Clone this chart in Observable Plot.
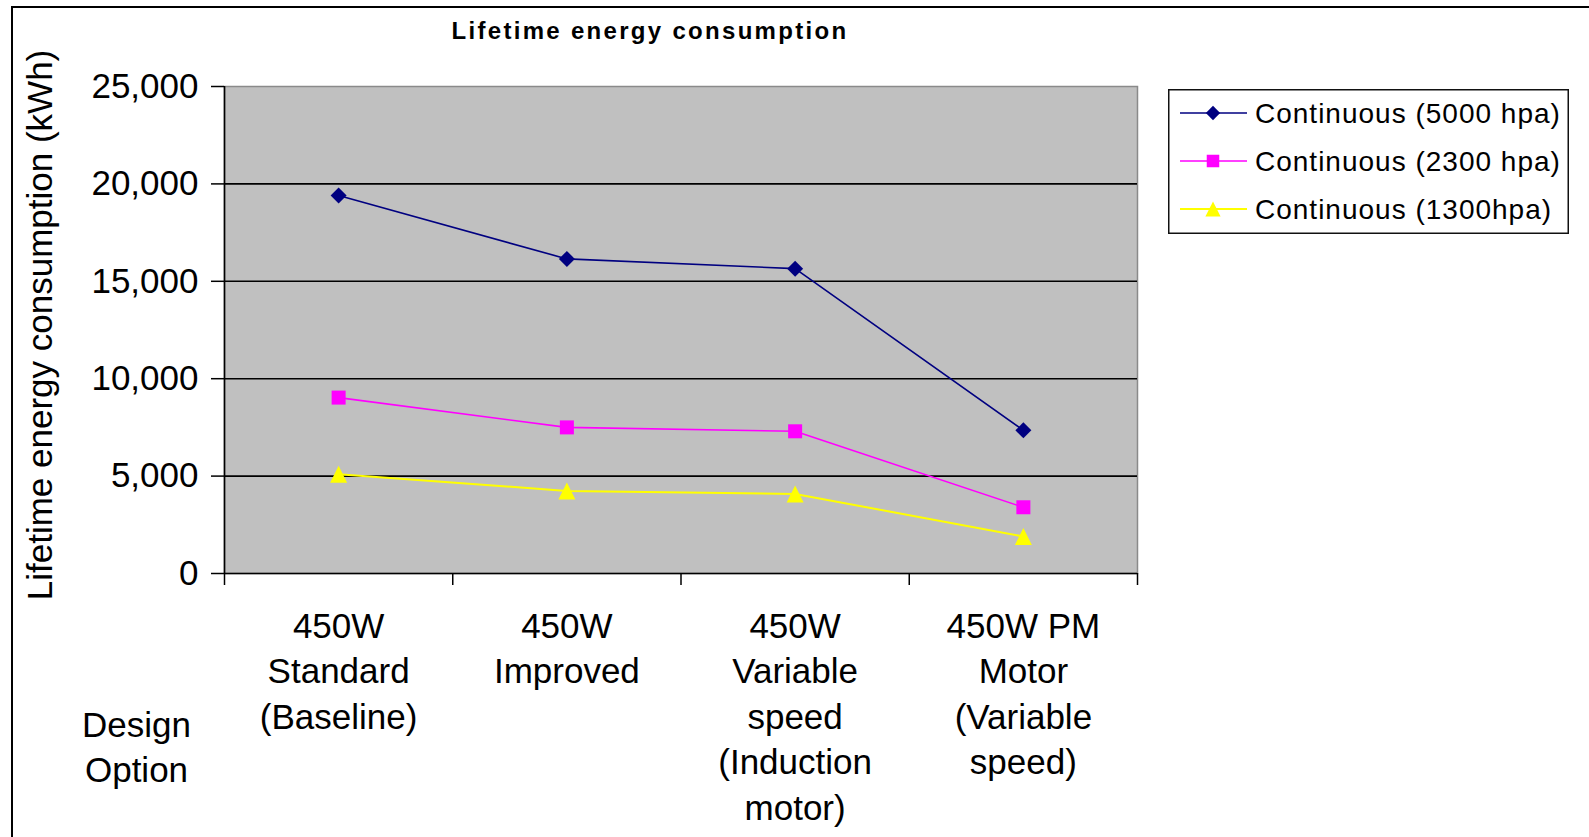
<!DOCTYPE html>
<html>
<head>
<meta charset="utf-8">
<script src="https://cdn.jsdelivr.net/npm/d3@7"></script>
<script src="https://cdn.jsdelivr.net/npm/@observablehq/plot@0.6"></script>
<style>
html, body { margin: 0; padding: 0; background: #fff; }
#wrap { position: relative; width: 1589px; height: 837px; overflow: hidden; font-family: "Liberation Sans", Arial, sans-serif; background: #fff; }
#border { position: absolute; left: 11px; top: 6px; right: -20px; bottom: -20px; border-left: 2px solid #000; border-top: 2px solid #000; pointer-events: none; }
#chart { position: absolute; left: 0; top: 0; }
#title { position: absolute; left: 0; width: 1300px; top: 19px; line-height: 24px; text-align: center; font-weight: bold; font-size: 24px; letter-spacing: 2.3px; color: #000; }
#legend { position: absolute; left: 1168px; top: 89px; }
</style>
</head>
<body>
<div id="wrap">
  <div id="chart"></div>
  <div id="title">Lifetime energy consumption</div>
  <div id="legend"></div>
  <div id="border"></div>
</div>
<script>
// ---- data ----
const categories = [
  "450W\nStandard\n(Baseline)",
  "450W\nImproved",
  "450W\nVariable\nspeed\n(Induction\nmotor)",
  "450W PM\nMotor\n(Variable\nspeed)"
];
const seriesNames = ["Continuous (5000 hpa)", "Continuous (2300 hpa)", "Continuous (1300hpa)"];
const values5000 = [19400, 16150, 15650, 7350];
const values2300 = [9030, 7500, 7300, 3400];
const values1300 = [5100, 4240, 4085, 1900];
const yTicks = [0, 5000, 10000, 15000, 20000, 25000];
const yLabel = "Lifetime energy consumption (kWh)";
const xAxisTitle = "Design\nOption";

// ---- styles ----
const colors = ["#000080", "#FF00FF", "#FFFF00"];
const font = "'Liberation Sans', Arial, sans-serif";

// custom symbols: r = sqrt(size/PI) is half-size
const diamond = { draw(ctx, size) { const r = Math.sqrt(size / Math.PI); ctx.moveTo(0, -r); ctx.lineTo(r, 0); ctx.lineTo(0, r); ctx.lineTo(-r, 0); ctx.closePath(); } };
const square = { draw(ctx, size) { const r = Math.sqrt(size / Math.PI); ctx.rect(-r, -r, 2 * r, 2 * r); } };
const triangle = { draw(ctx, size) { const r = Math.sqrt(size / Math.PI); ctx.moveTo(0, -r); ctx.lineTo(r, r); ctx.lineTo(-r, r); ctx.closePath(); } };
const symbols = [diamond, square, triangle];
const symbolR = [8, 7, 8.5];

const allValues = [values5000, values2300, values1300];
const rows = allValues.flatMap((vals, s) => vals.map((v, i) => ({ series: seriesNames[s], s, idx: i, value: v })));

const marks = [
  Plot.frame({ fill: "#c0c0c0", stroke: "#8a8a8a", strokeWidth: 1.5 }),
  Plot.ruleY(yTicks.filter(t => t > yTicks[0] && t < yTicks[yTicks.length - 1]), { stroke: "#000", strokeWidth: 1.6 }),
  Plot.axisY({ ticks: yTicks, tickFormat: d3.format(","), tickSize: 13, tickPadding: 13, label: null, strokeWidth: 1.5, fontSize: 35 }),
  Plot.axisX({ ticks: d3.range(categories.length + 1), tickFormat: () => "", tickSize: 12, label: null, strokeWidth: 1.5 }),
  Plot.ruleX([0], { stroke: "#000", strokeWidth: 1.6 }),
  Plot.ruleY([0], { stroke: "#000", strokeWidth: 1.6 }),
  Plot.text(categories, { x: (d, i) => i + 0.5, frameAnchor: "bottom", textAnchor: "middle", lineAnchor: "top", dy: 32, lineHeight: 1.3, fontSize: 35, fill: "#000" }),
  Plot.text([xAxisTitle], { frameAnchor: "bottom-left", textAnchor: "middle", dx: -88, dy: 131, lineAnchor: "top", lineHeight: 1.3, fontSize: 35, fill: "#000" }),
  Plot.text([yLabel], { frameAnchor: "left", textAnchor: "middle", lineAnchor: "middle", dx: -184, dy: -5, rotate: -90, fontSize: 35, fill: "#000" })
];
seriesNames.forEach((name, s) => {
  const data = rows.filter(d => d.s === s);
  marks.push(Plot.line(data, { x: d => d.idx + 0.5, y: "value", stroke: colors[s], strokeWidth: s === 2 ? 2 : 1.6 }));
});
seriesNames.forEach((name, s) => {
  const data = rows.filter(d => d.s === s);
  marks.push(Plot.dot(data, { x: d => d.idx + 0.5, y: "value", symbol: symbols[s], r: symbolR[s], fill: colors[s], stroke: "none" }));
});

const chart = Plot.plot({
  width: 1589, height: 837,
  marginLeft: 224, marginRight: 452, marginTop: 86, marginBottom: 264,
  style: { fontFamily: font, fontSize: "35px", color: "#000", background: "transparent", overflow: "visible" },
  x: { domain: [0, categories.length] },
  y: { domain: [yTicks[0], yTicks[yTicks.length - 1]] },
  marks
});
document.getElementById("chart").appendChild(chart);

// ---- legend ----
const lw = 402, lh = 146;
const lsvg = d3.select("#legend").append("svg").attr("width", lw).attr("height", lh);
lsvg.append("rect").attr("x", 0.75).attr("y", 0.75).attr("width", lw - 2.5).attr("height", lh - 2.5)
  .attr("fill", "#fff").attr("stroke", "#111").attr("stroke-width", 1.5);
const rowY = [24, 72, 120];
seriesNames.forEach((name, s) => {
  const g = lsvg.append("g").attr("transform", `translate(0,${rowY[s]})`);
  g.append("line").attr("x1", 12).attr("x2", 79).attr("y1", 0).attr("y2", 0).attr("stroke", colors[s]).attr("stroke-width", s === 2 ? 2 : 1.6);
  g.append("path").attr("transform", "translate(45,0)").attr("d", d3.symbol(symbols[s], Math.PI * symbolR[s] * symbolR[s] * 0.8)()).attr("fill", colors[s]);
  g.append("text").attr("x", 87).attr("y", 0).attr("dy", "0.35em").attr("font-family", font).attr("font-size", 28)
    .attr("letter-spacing", "1px").attr("fill", "#000").text(name);
});
</script>
</body>
</html>
